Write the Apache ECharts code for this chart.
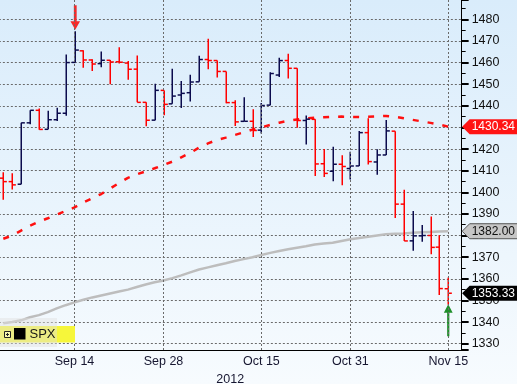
<!DOCTYPE html>
<html><head><meta charset="utf-8">
<script src="https://cdn.jsdelivr.net/npm/echarts@6/dist/echarts.min.js"></script>
<style>html,body{margin:0;padding:0;}#c{width:517px;height:384px;background:linear-gradient(#d9ecfb,#f7fbfe);}</style>
</head><body><div id="c"></div><script>
const dates = ['Sep 4','Sep 5','Sep 6','Sep 7','Sep 10','Sep 11','Sep 12','Sep 13','Sep 14','Sep 17','Sep 18','Sep 19','Sep 20','Sep 21','Sep 24','Sep 25','Sep 26','Sep 27','Sep 28',
'Oct 1','Oct 2','Oct 3','Oct 4','Oct 5','Oct 8','Oct 9','Oct 10','Oct 11','Oct 12','Oct 15','Oct 16','Oct 17','Oct 18','Oct 19','Oct 22','Oct 23','Oct 24','Oct 25','Oct 26','Oct 31',
'Nov 1','Nov 2','Nov 5','Nov 6','Nov 7','Nov 8','Nov 9','Nov 12','Nov 13','Nov 14','Nov 15','Nov 16'];
const labelDates = ['Sep 14','Sep 28','Oct 15','Oct 31','Nov 15'];
const tickDates = ['Sep 7','Sep 14','Sep 21','Sep 28','Oct 8','Oct 15','Oct 23','Oct 31','Nov 8','Nov 15'];
const yearLabel = '2012';
const ticker = 'SPX';

const opens = [1406.54,1404.94,1403.74,1432.12,1437.92,1429.13,1433.56,1436.56,1460.07,1465.42,1461.19,1459.50,1461.05,1460.34,1459.76,1456.94,1441.60,1433.36,1447.13,
1440.90,1444.99,1446.05,1451.08,1461.40,1460.93,1455.90,1441.48,1432.82,1432.84,1428.75,1440.31,1454.22,1460.94,1457.34,1433.21,1433.74,1413.20,1409.74,1412.97,1410.99,
1412.20,1427.59,1414.02,1417.26,1428.27,1394.53,1377.55,1379.86,1380.03,1374.64,1355.41];
const highs = [1409.31,1408.81,1432.12,1437.92,1438.74,1437.76,1439.15,1463.76,1474.51,1465.63,1461.47,1465.15,1461.23,1467.07,1460.72,1463.24,1441.60,1450.20,1447.13,
1457.14,1451.52,1454.30,1463.14,1470.96,1460.93,1455.90,1442.52,1443.90,1438.43,1441.31,1455.51,1462.20,1464.02,1457.34,1435.46,1433.74,1420.04,1421.12,1417.09,1418.76,
1428.35,1434.27,1419.90,1433.38,1428.27,1401.23,1391.39,1384.87,1388.81,1380.13,1360.62];
const lows = [1396.56,1401.25,1403.74,1431.45,1428.98,1429.13,1432.99,1435.34,1460.07,1457.55,1456.13,1457.88,1449.98,1459.51,1452.06,1441.59,1430.53,1433.36,1435.60,
1440.90,1439.01,1441.99,1451.08,1456.89,1453.10,1441.18,1430.64,1432.82,1425.53,1427.24,1440.31,1453.35,1452.63,1429.85,1422.06,1407.56,1407.10,1405.14,1403.28,1405.95,
1412.20,1412.91,1408.13,1417.26,1388.14,1377.51,1373.03,1377.19,1371.39,1352.50,1348.05];
const closes = [1404.94,1403.44,1432.12,1437.92,1429.08,1433.56,1436.56,1459.99,1465.77,1461.19,1459.32,1461.05,1460.26,1460.15,1456.89,1441.59,1433.32,1447.15,1440.67,
1444.49,1445.75,1450.99,1461.40,1460.93,1455.88,1441.48,1432.56,1432.84,1428.59,1440.13,1454.92,1460.91,1457.34,1433.19,1433.82,1413.11,1408.75,1412.97,1411.94,1412.16,
1427.59,1414.20,1417.26,1428.39,1394.53,1377.51,1379.85,1380.03,1374.53,1355.49,1353.33];
const ma50 = [1378.5,1380.0,1382.3,1384.5,1386.4,1388.0,1389.7,1391.3,1393.0,1395.3,1397.3,1399.2,1401.7,1404.3,1406.7,1408.3,1409.7,1411.1,1412.6,
1414.2,1416.2,1418.2,1420.7,1422.6,1424.2,1425.3,1426.5,1427.7,1429.0,1430.0,1431.2,1432.2,1433.1,1433.7,1434.2,1434.5,1434.7,1434.9,1435.0,1434.9,
1434.8,1434.9,1435.1,1435.3,1434.9,1434.2,1433.5,1432.8,1432.1,1431.3,1430.34];
const ma200 = [1339.4,1340.0,1340.8,1342.2,1343.2,1344.6,1346.3,1347.8,1349.1,1350.3,1351.4,1352.3,1353.2,1354.1,1355.0,1356.2,1357.4,1358.4,1359.2,
1360.3,1361.6,1363.0,1364.3,1365.3,1366.3,1367.2,1368.2,1369.1,1370.0,1371.0,1372.0,1372.9,1373.7,1374.4,1375.1,1375.9,1376.3,1376.7,1377.5,1378.3,
1378.9,1379.4,1380.0,1380.6,1380.8,1381.0,1381.3,1381.5,1381.7,1381.9,1382.0];
const peakIdx = 8;     // Sep 14 high (red arrow)
const troughIdx = 50;  // Nov 15 low (green arrow)

const NAVY = '#0b0b4d', RED = '#ff0000';
const FONT = 'Liberation Sans, Arial, sans-serif';
const FS = 12.5;

const ohlc = opens.map((o, i) => [i, o, closes[i], lows[i], highs[i]]);
const last = closes.length - 1;
const tags = [[last, ma50[last], 0], [last, ma200[last], 1], [last, closes[last], 2]];
const tagStyles = [
  {fill: '#ff1414', stroke: null, color: '#ffffff'},
  {fill: '#c6c6c6', stroke: '#555555', color: '#111111'},
  {fill: '#000000', stroke: null, color: '#ffffff'}
];
const arrows = [[peakIdx, highs[peakIdx], 0], [troughIdx, lows[troughIdx], 1]];

function renderOHLC(params, api) {
  const i = api.value(0);
  const o = api.coord([i, api.value(1)]);
  const c = api.coord([i, api.value(2)]);
  const l = api.coord([i, api.value(3)]);
  const h = api.coord([i, api.value(4)]);
  const x = Math.round(o[0]) + 0.25;
  const color = api.value(2) >= api.value(1) ? NAVY : RED;
  const w = 3.6, st = {stroke: color, lineWidth: 1.5};
  return {type: 'group', children: [
    {type: 'line', shape: {x1: x, y1: h[1], x2: x, y2: l[1]}, style: st},
    {type: 'line', shape: {x1: x - w, y1: o[1], x2: x, y2: o[1]}, style: st},
    {type: 'line', shape: {x1: x, y1: c[1], x2: x + w, y2: c[1]}, style: st}
  ]};
}

function renderTag(params, api) {
  const v = api.value(1), k = api.value(2);
  const y = api.coord([0, v])[1];
  const x0 = params.coordSys.x + params.coordSys.width + 0.5;
  const s = tagStyles[k];
  const hh = 7.5;
  return {type: 'group', children: [
    {type: 'polygon', shape: {points: [[x0, y], [x0 + 7.5, y - hh], [518, y - hh], [518, y + hh], [x0 + 7.5, y + hh]]},
     style: {fill: s.fill, stroke: s.stroke, lineWidth: 1}},
    {type: 'text', style: {text: v.toFixed(2), x: x0 + 9.5, y: y + 0.5, fill: s.color, font: '12px ' + FONT, align: 'left', verticalAlign: 'middle'}}
  ]};
}

function renderArrow(params, api) {
  const i = api.value(0), v = api.value(1), dir = api.value(2);
  const p = api.coord([i, v]);
  const x = Math.round(p[0]) + 0.25;
  let pts, color;
  if (dir === 0) {
    const tip = p[1] - 1.5, hb = tip - 8.3, top = tip - 24.5;
    pts = [[x - 1.4, top], [x + 1.4, top], [x + 1.4, hb], [x + 4.8, hb], [x, tip], [x - 4.8, hb], [x - 1.4, hb]];
    color = '#f52a2a';
  } else {
    const tip = p[1] - 0.3, hb = tip + 8.5, bot = tip + 32;
    pts = [[x - 1.1, bot], [x + 1.1, bot], [x + 1.1, hb], [x + 4.4, hb], [x, tip], [x - 4.4, hb], [x - 1.1, hb]];
    color = '#1f8f2a';
  }
  return {type: 'polygon', shape: {points: pts}, style: {fill: color}};
}

const gridStyle = {color: '#6a6a6a', width: 1, type: [2, 2]};

const chart = echarts.init(document.getElementById('c'), null, {renderer: 'canvas'});
chart.setOption({
  animation: false,
  backgroundColor: 'transparent',
  grid: {left: -1.15, top: 0, width: 462.8, height: 350, containLabel: false, outerBoundsMode: 'none'},
  xAxis: {
    type: 'category', data: dates, boundaryGap: true,
    axisLine: {lineStyle: {color: '#000', width: 1}},
    axisTick: {interval: (i, v) => tickDates.includes(v), alignWithLabel: true, length: 4, lineStyle: {color: '#000'}},
    axisLabel: {interval: (i, v) => labelDates.includes(v), color: '#161630', fontSize: FS, fontFamily: FONT, margin: 5},
    splitLine: {show: false},
    name: yearLabel, nameLocation: 'middle', nameGap: 18,
    nameTextStyle: {color: '#161630', fontSize: FS, fontFamily: FONT}
  },
  yAxis: {
    type: 'value', position: 'right', min: 1327.08, max: 1488.92, minInterval: 10, maxInterval: 10,
    axisLine: {show: true, lineStyle: {color: '#000', width: 1}},
    axisTick: {show: true, length: 7, lineStyle: {color: '#000', width: 2}},
    minorTick: {show: true, splitNumber: 2, length: 4, lineStyle: {color: '#000', width: 1}},
    axisLabel: {margin: 10, color: '#111', fontSize: FS, fontFamily: FONT, showMinLabel: false, showMaxLabel: false,
      formatter: v => String(Math.round(v))},
    splitLine: {show: true, showMinLine: false, showMaxLine: false, lineStyle: gridStyle}
  },
  graphic: [
    {type: 'rect', shape: {x: 0, y: 326, width: 75, height: 16.5}, style: {fill: '#f6f63a'}, z: 50},
    {type: 'rect', shape: {x: 0, y: 318, width: 57, height: 29}, style: {fill: 'rgba(225,225,225,0.45)'}, z: 51},
    {type: 'rect', shape: {x: 4.5, y: 331.5, width: 6, height: 6}, style: {fill: '#f6f6b0', stroke: '#222', lineWidth: 1}, z: 52},
    {type: 'line', shape: {x1: 6, y1: 334.5, x2: 9, y2: 334.5}, style: {stroke: '#222', lineWidth: 1}, z: 53},
    {type: 'line', shape: {x1: 7.5, y1: 333, x2: 7.5, y2: 336}, style: {stroke: '#222', lineWidth: 1}, z: 53},
    {type: 'rect', shape: {x: 14, y: 328, width: 11.5, height: 11.5}, style: {fill: '#000'}, z: 52},
    {type: 'text', style: {text: ticker, x: 29.5, y: 334.5, fill: '#161616', font: '13px ' + FONT, verticalAlign: 'middle'}, z: 52}
  ],
  series: [
    {type: 'line', data: ma200, symbol: 'none', silent: true, z: 0, lineStyle: {opacity: 0},
     markLine: {silent: true, symbol: ['none', 'none'], label: {show: false}, lineStyle: gridStyle, emphasis: {disabled: true},
       data: labelDates.map(d => ({xAxis: d}))}},
    {type: 'line', data: ma200, symbol: 'none', silent: true, z: 1, lineStyle: {color: '#bdbdbd', width: 2.5}},
    {type: 'line', data: ma50, symbol: 'none', silent: true, z: 1, lineStyle: {color: '#ff1010', width: 2.5, type: [6, 9]}},
    {type: 'custom', data: ohlc, renderItem: renderOHLC, silent: true, z: 3, encode: {x: 0, y: [1, 2, 3, 4]}},
    {type: 'custom', data: arrows, renderItem: renderArrow, silent: true, z: 4, encode: {x: 0, y: 1}},
    {type: 'custom', data: tags, renderItem: renderTag, silent: true, clip: false, z: 10, encode: {x: 0, y: 1}}
  ]
});
</script></body></html>
